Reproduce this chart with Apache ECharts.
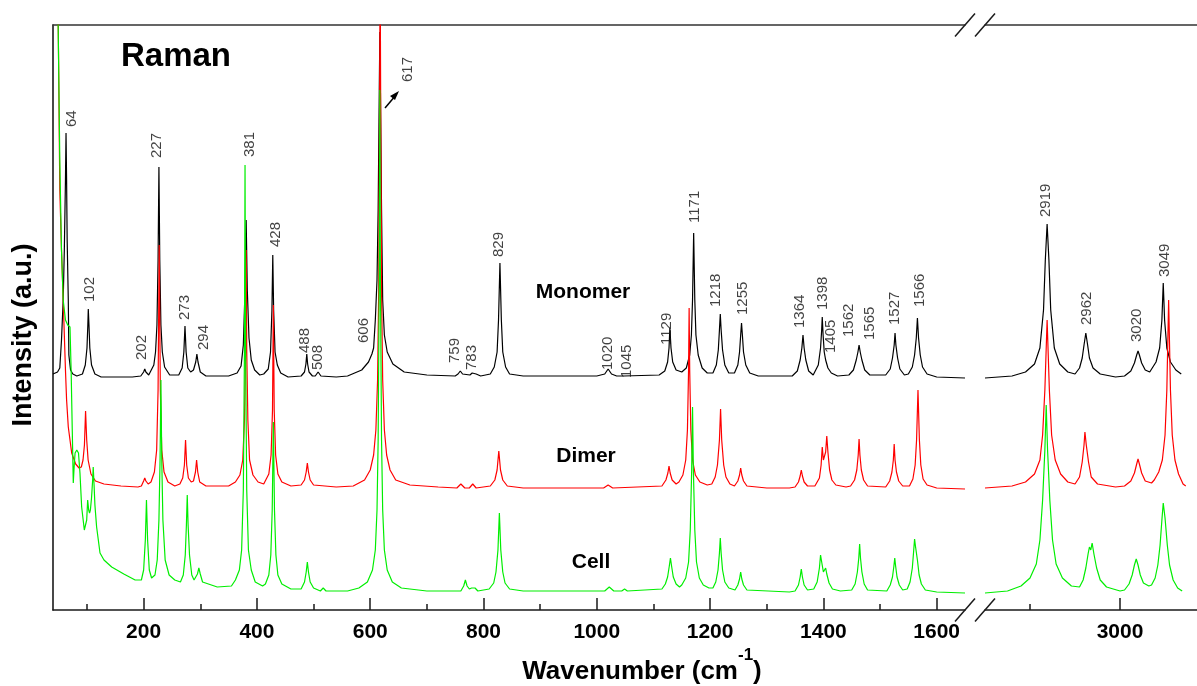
<!DOCTYPE html>
<html><head><meta charset="utf-8">
<script src="https://cdn.jsdelivr.net/npm/echarts@6/dist/echarts.min.js"></script>
<style>html,body{margin:0;padding:0;background:#fff}#c{width:1197px;height:686px}</style>
</head><body><div id="c"></div>
<script>
// ---------- data (wavenumber cm-1, intensity a.u., traces offset) ----------
const monomerLow = [
[40,236],[42,235],[48,238],[52,242],[55,270],[58,310],[60,360],[62,430],[63,477],[64,430],[65,370],[67,310],[68,255],[71,240],[75,236],[82,234],
[92,236],[97,245],[100,262],[101.5,285],[102.3,301],[103.5,285],[105,262],[108,245],[114,236],[125,233],[180,233],
[195,234],[200,238],[202,241],[204,238],[209,235],
[212,236],[218,245],[221,258],[223.5,285],[225.5,350],[227,443],[228.5,350],[230.5,285],[233,258],[237,243],[246,235],
[262,235],[268,242],[271,258],[273,284],[275,258],[278,242],
[283,238],[288,240],[292,248],[294,256],[296,248],[300,238],[310,234],
[350,234],[365,237],[372,244],[376,265],[379,320],[381,390],[383,320],[386,272],[390,250],[396,240],[405,235],
[412,236],[420,241],[424,258],[426.5,300],[428,355],[429.5,300],[432,258],[436,245],[442,237],[455,233],
[478,234],[484,238],[486.5,246],[488,256],[489.5,246],[492,238],[498,234],
[503,234],[508,238],[513,234],[540,233],
[560,234],[585,240],[597,248],[603,256],[606,262],[609,290],[612,330],[614,400],[616,520],[617,578],[618,520],[620,400],[622,310],[625,275],[630,258],[640,246],[660,238],[700,235],
[750,234],[755,236],[759,239],[763,236],
[776,235],[780,237],[783,239],[787,236],[795,234],
[812,236],[819,243],[824,258],[826.5,290],[829,347],[831.5,290],[834,258],[839,243],[846,236],[870,234],
[1000,234],[1014,236],[1020,241],[1026,236],[1035,234],
[1042,234],[1045,236],[1048,234],
[1110,235],[1120,239],[1125,248],[1127.5,262],[1129,282],[1131,262],[1134,248],[1140,240],[1150,238],
[1158,242],[1164,255],[1167,275],[1169,310],[1171,377],[1173,310],[1175,275],[1179,255],[1186,242],[1195,237],
[1205,237],[1211,245],[1214.5,260],[1216.5,280],[1218,296],[1219.5,280],[1222,260],[1226,245],[1233,237],
[1243,237],[1249,245],[1252,258],[1254,275],[1255.5,287],[1257,275],[1259,258],[1263,245],[1270,237],[1285,234],
[1345,234],[1354,239],[1359,250],[1362,262],[1364,275],[1366,262],[1369,250],[1374,239],[1382,235],
[1385,236],[1391,245],[1395,262],[1397,280],[1398,293],[1399.5,275],[1401.5,258],[1404,250],[1405.5,248],[1408,242],[1414,237],[1425,234],
[1445,235],[1453,240],[1458,250],[1461,258],[1463,265],[1465,258],[1468,250],[1473,240],[1482,235],
[1510,235],[1518,241],[1522,252],[1525,265],[1526.5,277],[1528,265],[1531,252],[1535,241],[1543,235],
[1550,236],[1557,243],[1561,255],[1564,272],[1566,292],[1568,272],[1571,255],[1575,243],[1583,236],[1600,233],[1650,232]
];
const monomerHigh = [
[2850,232],[2880,234],[2895,238],[2905,246],[2911,262],[2915,300],[2917,350],[2919,386],[2921,350],[2923,300],[2927,262],[2933,246],[2942,238],[2950,236],
[2955,242],[2958,252],[2960,265],[2962,277],[2964,265],[2966,252],[2970,242],[2978,236],[2995,233],
[3005,234],[3012,239],[3016,247],[3018.5,255],[3020,259],[3021.5,255],[3024,247],[3028,240],[3033,238],
[3035,240],[3040,248],[3044,262],[3046.5,290],[3048,327],[3049.5,290],[3052,262],[3056,248],[3062,240],[3068,236]
];
const dimerLow = [
[40,800],[46,700],[49,600],[52,420],[55,360],[58,310],[62,240],[64,210],[67,183],[73,157],[80,146],[86,142],[90,143],[93,150],[95.5,165],[97.5,199],[99.5,170],[102,150],[107,136],[115,129],[130,126],[160,124],[190,123],
[196,124],[200,129],[202,132],[204,129],[208,126],
[213,128],[219,138],[223,160],[225.5,220],[227.5,365],[229.5,220],[232,160],[236,138],[243,128],[255,124],
[264,126],[269,132],[272,145],[274,170],[276,145],[279,132],[284,128],
[288,129],[291.5,138],[293.5,150],[295.5,138],[299,128],[310,124],[350,124],
[362,128],[370,135],[375,150],[378,190],[380,260],[381,360],[382,260],[384,190],[387,150],[393,135],[402,128],[412,126],
[415,128],[421,136],[425,155],[427.5,200],[429,305],[430.5,200],[433,155],[437,136],[444,128],[460,124],
[478,125],[484,130],[487,138],[489,147],[491,138],[494,130],[500,125],[540,123],
[570,124],[590,130],[600,140],[606,155],[610,180],[613,230],[615,320],[616.5,500],[617.5,650],[618.5,500],[620,320],[622,230],[625,180],[629,155],[635,140],[645,130],[670,125],[720,123],
[753,122],[760,126],[767,122],[775,122],[781,126],[787,122],
[812,124],[820,130],[824,140],[827,159],[830,140],[834,130],[842,124],[870,122],
[1012,122],[1020,125],[1028,122],
[1115,124],[1122,130],[1125.5,137],[1127.5,144],[1129.5,137],[1133,130],[1140,126],
[1145,128],[1152,135],[1157,150],[1160,180],[1162,240],[1163,302],[1164,240],[1166,180],[1169,150],[1174,135],[1182,128],[1195,125],
[1203,126],[1209,133],[1213,145],[1216.5,170],[1218.5,201],[1220.5,170],[1224,145],[1228,133],[1235,126],
[1243,124],[1249,129],[1252,135],[1254,142],[1256,135],[1259,129],[1265,124],[1300,122],[1340,122],
[1350,123],[1356,128],[1359,134],[1361,140],[1363,134],[1366,128],[1372,124],[1385,124],
[1388,126],[1393,132],[1396,145],[1398,163],[1400,150],[1402,148],[1404,158],[1406,174],[1408,158],[1411,140],[1415,130],[1422,125],[1440,123],
[1448,124],[1455,130],[1459,140],[1461.5,155],[1463,171],[1464.5,155],[1467,140],[1471,130],[1478,124],
[1510,123],[1517,129],[1521,138],[1523.5,150],[1525,166],[1526.5,150],[1529,138],[1533,129],[1540,124],
[1552,124],[1558,131],[1562,145],[1564.5,170],[1567,220],[1569.5,170],[1572,145],[1576,131],[1583,125],[1600,122],[1650,121]
];
const dimerHigh = [
[2850,122],[2880,124],[2895,128],[2905,136],[2911,150],[2914,175],[2916.5,220],[2919,290],[2921.5,220],[2924,175],[2928,150],[2934,136],[2942,128],[2950,126],
[2952,127],[2955,133],[2958,148],[2960,165],[2961,178],[2962.5,165],[2965,148],[2968,133],[2975,126],[2995,123],
[3005,124],[3012,129],[3016,137],[3018.5,146],[3020,151],[3021.5,146],[3024,137],[3028,129],[3035,127],
[3038,130],[3043,138],[3047,150],[3050,175],[3052,220],[3054,310],[3056,220],[3058,175],[3061,150],[3065,136],[3070,126],[3073,124]
];
const cellLow = [
[40,800],[45,700],[49,590],[52,450],[55,360],[58,310],[62,290],[66,285],[70,283],[72,240],[74,180],[75.8,127],[77.5,145],[79,157],[82,160],[85,157],[87.6,137],[90.6,103],[95.3,80],[98,82],[99.5,90],[101.2,110],[103,100],[104.5,97],[106,100],[108,112],[110,130],[111,143],[112.5,125],[114,105],[117,83],[123,57],[130,50],[143.6,43],[165,36],[185,30],
[196,30],[200,40],[203,70],[205,110],[207,70],[210,40],[214,32],[217,33],
[220,35],[224,50],[227,90],[229,150],[230.5,230],[232,150],[234,90],[238,50],[245,35],[255,30],
[265,28],[270,35],[273.5,55],[275.5,85],[277,115],[278.5,85],[281,55],[285,35],[289,30],
[292,30],[295,36],[297.5,42],[300,36],[304,28],[330,23],[355,24],
[362,30],[369,40],[373,60],[376,120],[378,260],[379,445],[380,260],[382,120],[385,60],[390,40],[397,28],[410,24],
[415,26],[421,35],[424.5,55],[427,100],[429,188],[431,100],[433.5,55],[437,35],[444,26],[460,21],
[478,21],[484,28],[487,38],[489,48],[491,38],[494,28],[500,22],
[512,19],[517,22],[522,19],[560,19],
[580,22],[595,28],[604,40],[609,60],[612,100],[614,170],[616,330],[617,520],[618,330],[620,170],[622,100],[625,60],[630,40],[639,28],[655,22],[700,19],
[760,19],[765,24],[768,30],[771,24],[775,21],[779,22],[782,23],[785,22],[790,19],
[810,21],[818,27],[822,38],[825.5,60],[828,97],[830.5,60],[834,38],[838,27],[846,21],[870,19],
[1014,19],[1022,23],[1030,19],[1044,19],[1049,21],[1054,19],
[1115,21],[1121,26],[1125,33],[1128,44],[1130,52],[1132,44],[1135,33],[1140,26],[1146,23],
[1150,25],[1157,32],[1162,48],[1165,80],[1167.5,140],[1169,203],[1170.5,140],[1173,80],[1176,48],[1181,32],[1188,25],[1198,22],
[1205,22],[1210,28],[1214,40],[1216.5,57],[1218,72],[1219.5,57],[1222,40],[1226,28],[1233,22],
[1244,20],[1249,25],[1252,31],[1254,38],[1256,31],[1259,25],[1265,20],[1340,18],
[1350,19],[1356,25],[1359,33],[1361,41],[1363,33],[1366,25],[1372,20],
[1383,21],[1389,28],[1393,42],[1395,55],[1397,48],[1400,38],[1402,38],[1404,42],[1406,36],[1410,27],[1416,21],[1430,19],
[1450,20],[1456,26],[1460,38],[1462.5,52],[1464,66],[1465.5,52],[1468,38],[1472,26],[1478,20],
[1512,19],[1518,25],[1522,33],[1524.5,44],[1526,52],[1527.5,44],[1530,33],[1534,25],[1540,20],
[1548,21],[1553,28],[1557,42],[1559.5,60],[1561,71],[1562.5,64],[1564,65],[1566,50],[1569,35],[1573,26],[1580,20],[1600,18],[1650,17]
];
const cellHigh = [
[2850,17],[2875,19],[2890,24],[2900,32],[2907,46],[2911,70],[2914,110],[2916.5,160],[2918,205],[2919.5,160],[2922,110],[2925,70],[2929,46],[2936,32],[2946,24],[2955,23],
[2959,30],[2962,42],[2964.5,56],[2966,63],[2967.5,60],[2969,67],[2971,56],[2974,42],[2978,30],[2985,23],[3000,19],
[3005,20],[3010,26],[3013.5,35],[3016,45],[3018,51],[3020,45],[3022.5,35],[3026,27],[3032,24],
[3035,25],[3039,32],[3042,45],[3044.5,65],[3046.5,90],[3048,107],[3050,92],[3052.5,65],[3055,45],[3059,30],[3064,22],[3069,19]
];
// peak annotations: [text, wavenumber, intensity at text foot]
const peakLabelsLow = [
['64',73,483],['102',105,308],['202',196,250],['227',223.5,452],['273',273,290],['294',306,260],
['381',387,453],['428',432.6,363],['488',484.7,257],['508',507.6,240],['606',589,267],['617',666,528],
['759',749,247],['783',779,240],['829',827,353],['1020',1019,240],['1045',1053,232],['1129',1123,265],
['1171',1173,387],['1218',1211,303],['1255',1258,295],['1364',1358,282],['1398',1399,300],['1405',1414,257],
['1562',1444.6,273],['1565',1482.6,270],['1527',1526,285],['1566',1570,303]
];
const peakLabelsHigh = [['2919',2918,393],['2962',2963,285],['3020',3019,268],['3049',3049.4,333]];
const lowTicks = [200,400,600,800,1000,1200,1400,1600];
const lowMinorTicks = [100,300,500,700,900,1100,1300,1500];
const highTicks = [3000];
const highMinorTicks = [2900];
const traceNames = ['Monomer','Dimer','Cell'];

// ---------- layout ----------
const L1 = 53, R1 = 965, L2 = 985, TOP = 25, BOT = 610, W = 1197, H = 686;
const FONT = '"Liberation Sans", Arial, sans-serif';
const AX = '#1a1a1a';

const chart = echarts.init(document.getElementById('c'), null, {renderer: 'canvas'});

function xAxes(grid, min, max, ticks, minor) {
  return [
    {gridIndex: grid, type: 'value', position: 'bottom', min, max,
     axisLine: {show: true, onZero: false, lineStyle: {color: AX, width: 1.6}},
     axisTick: {show: true, inside: true, length: 12, customValues: ticks, lineStyle: {color: AX, width: 1.5}},
     axisLabel: {show: true, customValues: ticks, margin: 12, formatter: v => String(v),
                 color: '#000', fontSize: 21, fontWeight: 'bold', fontFamily: FONT},
     splitLine: {show: false}},
    {gridIndex: grid, type: 'value', position: 'bottom', min, max,
     axisLine: {show: false},
     axisTick: {show: true, inside: true, length: 6, customValues: minor, lineStyle: {color: AX, width: 1.5}},
     axisLabel: {show: false}, splitLine: {show: false}},
    {gridIndex: grid, type: 'value', position: 'top', min, max,
     axisLine: {show: true, onZero: false, lineStyle: {color: '#333', width: 1.5}},
     axisTick: {show: false}, axisLabel: {show: false}, splitLine: {show: false}}
  ];
}

function lineSeries(data, xi, yi, color, z) {
  return {type: 'line', xAxisIndex: xi, yAxisIndex: yi, data, showSymbol: false, symbol: 'none',
          lineStyle: {color, width: 1.2}, clip: true, silent: true, z, animation: false};
}
function labelSeries(arr, xi, yi) {
  return {type: 'scatter', xAxisIndex: xi, yAxisIndex: yi, symbolSize: 1, silent: true, z: 10,
          itemStyle: {color: 'rgba(0,0,0,0)'},
          data: arr.map(d => ({value: [d[1], d[2]], name: d[0]})),
          label: {show: true, formatter: p => p.name, position: 'inside', rotate: 90, align: 'left', verticalAlign: 'middle',
                  color: '#111', fontSize: 15, fontFamily: FONT}};
}

const slash = (cx, cy) => ({type: 'line', shape: {x1: cx - 10, y1: cy + 11.5, x2: cx + 10, y2: cy - 11.5},
  style: {stroke: AX, lineWidth: 1.5}, z: 100});

const option = {
  backgroundColor: '#fff',
  animation: false,
  grid: [
    {left: L1, top: TOP, width: R1 - L1, height: BOT - TOP, containLabel: false, outerBoundsMode: 'none'},
    {left: L2, top: TOP, width: W - L2, height: BOT - TOP, containLabel: false, outerBoundsMode: 'none'}
  ],
  xAxis: [].concat(xAxes(0, 40, 1650, lowTicks, lowMinorTicks), xAxes(1, 2850, 3085.5, highTicks, highMinorTicks)),
  yAxis: [
    {gridIndex: 0, type: 'value', min: 0, max: 585, position: 'left',
     axisLine: {show: true, onZero: false, lineStyle: {color: AX, width: 1.6}},
     axisTick: {show: false}, axisLabel: {show: false}, splitLine: {show: false}},
    {gridIndex: 1, type: 'value', min: 0, max: 585, show: false, splitLine: {show: false}}
  ],
  series: [
    lineSeries(monomerLow, 0, 0, '#000000', 2), lineSeries(monomerHigh, 3, 1, '#000000', 2),
    lineSeries(dimerLow, 0, 0, '#ff0000', 3), lineSeries(dimerHigh, 3, 1, '#ff0000', 3),
    lineSeries(cellLow, 0, 0, '#00ee00', 4), lineSeries(cellHigh, 3, 1, '#00ee00', 4),
    labelSeries(peakLabelsLow, 0, 0), labelSeries(peakLabelsHigh, 3, 1)
  ],
  graphic: [
    {type: 'text', style: {x: 176, y: 57, text: 'Raman', textAlign: 'center', textVerticalAlign: 'middle',
      font: 'bold 33px ' + FONT, fill: '#000'}},
    {type: 'text', style: {x: 583, y: 292.5, text: traceNames[0], textAlign: 'center', textVerticalAlign: 'middle',
      font: 'bold 21px ' + FONT, fill: '#000'}},
    {type: 'text', style: {x: 586, y: 456.5, text: traceNames[1], textAlign: 'center', textVerticalAlign: 'middle',
      font: 'bold 21px ' + FONT, fill: '#000'}},
    {type: 'text', style: {x: 591, y: 562.5, text: traceNames[2], textAlign: 'center', textVerticalAlign: 'middle',
      font: 'bold 21px ' + FONT, fill: '#000'}},
    {type: 'text', x: 24, y: 335, rotation: Math.PI / 2,
     style: {x: 0, y: 0, text: 'Intensity (a.u.)', textAlign: 'center', textVerticalAlign: 'middle',
      font: 'bold 27px ' + FONT, fill: '#000'}},
    {type: 'text', style: {x: 642, y: 666, text: '{a|Wavenumber (cm}{b|-1}{a|)}', textAlign: 'center', textVerticalAlign: 'middle',
      rich: {a: {fontSize: 26, fontWeight: 'bold', fontFamily: FONT, lineHeight: 38, verticalAlign: 'bottom', fill: '#000'},
             b: {fontSize: 17, fontWeight: 'bold', fontFamily: FONT, verticalAlign: 'top', fill: '#000'}}}},
    // broken-axis marks
    slash(R1, BOT), slash(L2, BOT), slash(R1, TOP), slash(L2, TOP),
    // arrow to 617 label
    {type: 'line', shape: {x1: 385, y1: 108, x2: 396, y2: 95}, style: {stroke: '#000', lineWidth: 1.5}},
    {type: 'polygon', shape: {points: [[399, 91], [390, 96], [395, 100]]}, style: {fill: '#000'}}
  ]
};
chart.setOption(option);
</script>
</body></html>
